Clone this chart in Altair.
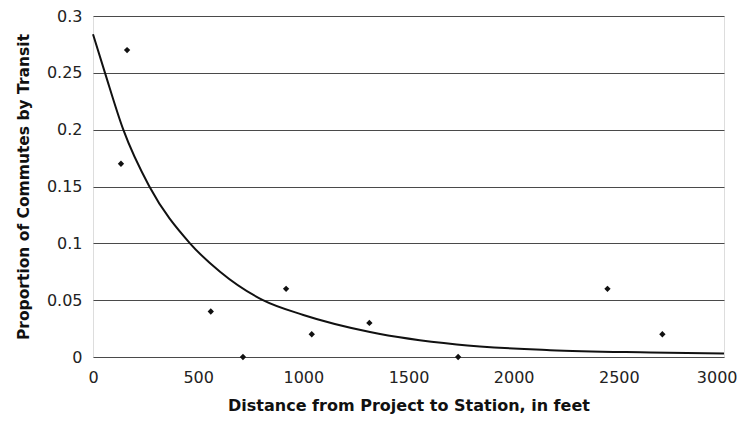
import altair as alt
import pandas as pd

# observed points
dist_ft = [133, 162, 560, 713, 918, 1040, 1314, 1736, 2446, 2707]
share = [0.17, 0.27, 0.04, 0.0, 0.06, 0.02, 0.03, 0.0, 0.06, 0.02]

# trend curve
curve_x = [0, 57, 144, 268, 461, 604, 808, 1000, 1317, 1729, 2173, 2649, 3000]
curve_y = [0.284, 0.25, 0.20, 0.15, 0.10, 0.075, 0.05, 0.037, 0.022, 0.011, 0.006, 0.004, 0.003]

x_ticks = [0, 500, 1000, 1500, 2000, 2500, 3000]
y_ticks = [0, 0.05, 0.1, 0.15, 0.2, 0.25, 0.3]

pts = pd.DataFrame({"x": dist_ft, "y": share})
crv = pd.DataFrame({"x": curve_x, "y": curve_y})

FONT = "DejaVu Sans"

xs = alt.Scale(domain=[0, 3000], nice=False)
ys = alt.Scale(domain=[0, 0.3], nice=False)

xax = alt.Axis(values=x_ticks, format="d", grid=False, ticks=False,
               domain=False, labelFontSize=16, labelColor="#222", labelPadding=12,
               labelFlush=False,
               labelAlign=alt.condition("datum.value == 3000", alt.value("right"), alt.value("center")),
               labelOffset=alt.condition("datum.value == 3000", alt.value(13), alt.value(0)),
               title="Distance from Project to Station, in feet", titleFontSize=16,
               titleFontWeight="bold", titleColor="#111", titlePadding=12, labelFont=FONT,
               titleFont=FONT)
yax = alt.Axis(values=y_ticks, format="~g", grid=True,
               gridColor="#4a4a4a", gridWidth=1, ticks=False, domain=False,
               labelFontSize=16, labelColor="#222", labelPadding=11,
               title="Proportion of Commutes by Transit", titleFontSize=15.5,
               titleFontWeight="bold", titleColor="#111", titlePadding=15,
               labelFont=FONT, titleFont=FONT)

line = alt.Chart(crv).mark_line(color="#111", strokeWidth=2, interpolate="monotone").encode(
    x=alt.X("x:Q", scale=xs, axis=xax),
    y=alt.Y("y:Q", scale=ys, axis=yax),
)
dots = alt.Chart(pts).mark_point(shape="diamond", filled=True, color="#111", size=40, opacity=1).encode(
    x=alt.X("x:Q", scale=xs),
    y=alt.Y("y:Q", scale=ys),
)

chart = (line + dots).properties(
    width=631, height=341,
    autosize=alt.AutoSizeParams(type="none"),
    padding={"left": 85, "top": 8, "right": 14, "bottom": 58},
).configure_view(stroke="#888", strokeWidth=1.5).configure(background="white")

chart.save("out.html", embed_options={"renderer": "svg", "actions": False})
